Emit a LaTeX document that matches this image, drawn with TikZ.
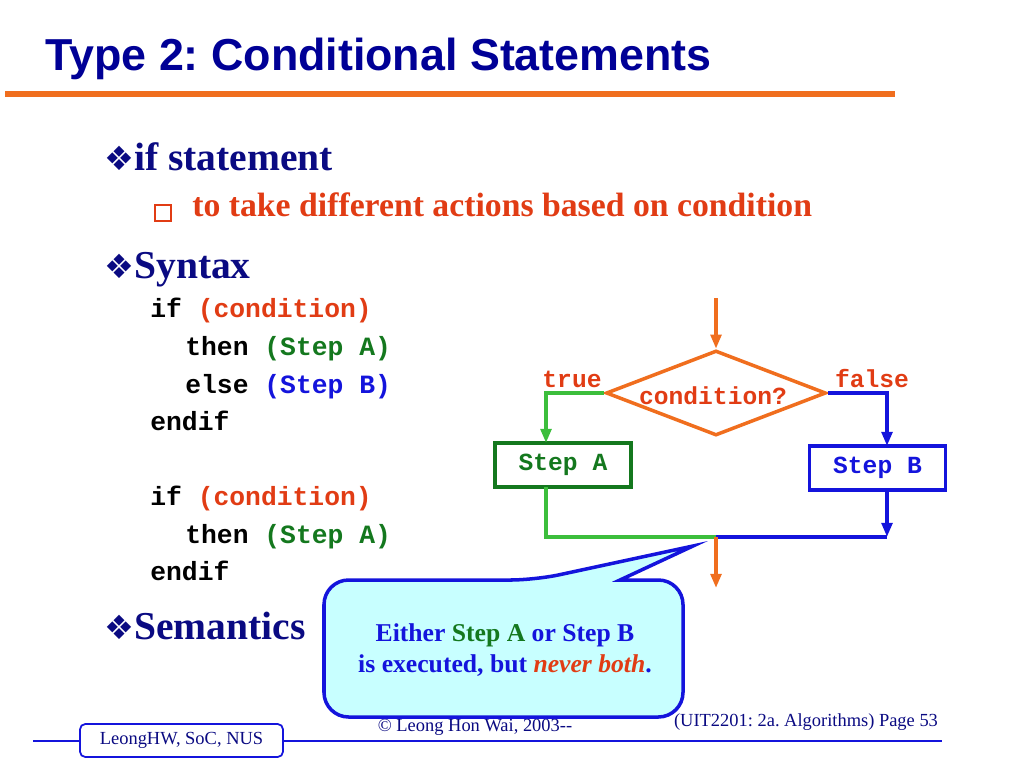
\documentclass[tikz,border=0pt]{standalone}
\usepackage{fontspec}
\setmainfont{Liberation Serif}
\newfontfamily\titlefont{Liberation Sans}
\newfontfamily\codefont{Liberation Mono}
\newfontfamily\symfont{DejaVu Sans}
\usetikzlibrary{shapes.geometric,arrows.meta}
\definecolor{navy}{RGB}{10,10,130}
\definecolor{ttl}{RGB}{0,0,150}
\definecolor{orng}{RGB}{240,110,30}
\definecolor{redo}{RGB}{225,60,20}
\definecolor{dgreen}{RGB}{20,120,30}
\definecolor{lgreen}{RGB}{60,190,60}
\definecolor{blu}{RGB}{20,20,220}
\definecolor{cyanfill}{RGB}{200,255,255}
\frenchspacing
\tikzset{
  body/.style={anchor=base west,inner sep=0,font=\bfseries\fontsize{22.5}{26}\selectfont,text=navy},
  code/.style={anchor=base west,inner sep=0,font=\codefont\bfseries\fontsize{15}{18}\selectfont},
  fc/.style={line width=2pt},
  tip/.style={-{Triangle[length=8pt,width=6pt]}},
  boxstyle/.style={draw,line width=2pt,minimum width=2.72cm,minimum height=0.88cm,inner sep=0,font=\codefont\bfseries\fontsize{14}{16}\selectfont},
  foot/.style={inner sep=0,font=\fontsize{10.5}{12}\selectfont,text=navy}
}
\begin{document}
\begin{tikzpicture}[x=0.02cm,y=-0.02cm]
\useasboundingbox (0,0) rectangle (1024,768);
% title
\node[anchor=base west,inner sep=0,font=\titlefont\bfseries\fontsize{25.5}{30}\selectfont,text=ttl] (title) at (45,70) {Type 2: Conditional Statements};
\draw[orng,line width=3pt] (5,94) coordinate (tl1) -- (895,94) coordinate (tl2);
% bullets
\node[body] (b1) at (104,170) {{\symfont\fontsize{19}{20}\selectfont ❖}if statement};
\node[anchor=base west,inner sep=0,draw=redo,line width=1pt,minimum size=0.32cm] (sq) at (154,213) {};
\node[anchor=base west,inner sep=0,font=\bfseries\fontsize{19.2}{22}\selectfont,text=redo] (sub) at (192,216) {to take different actions based on condition};
\node[body] (b2) at (104,278) {{\symfont\fontsize{19}{20}\selectfont ❖}Syntax};
\node[code] (c1) at (150,317) {if \textcolor{redo}{(condition)}};
\node[code] (c2) at (185,355) {then \textcolor{dgreen}{(Step A)}};
\node[code] (c3) at (185,393) {else \textcolor{blu}{(Step B)}};
\node[code] (c4) at (150,430) {endif};
\node[code] (c5) at (150,505) {if \textcolor{redo}{(condition)}};
\node[code] (c6) at (185,543) {then \textcolor{dgreen}{(Step A)}};
\node[code] (c7) at (150,580) {endif};
\node[body] (b3) at (104,639) {{\symfont\fontsize{19}{20}\selectfont ❖}Semantics};
% flowchart
\coordinate (top) at (716,298);
\node[diamond,draw=orng,fc,aspect=2.6,inner sep=0,minimum width=4.4cm,minimum height=1.7cm] (cond) at (716,393) {};
\node[inner sep=0,font=\codefont\bfseries\fontsize{14}{16}\selectfont,text=redo] (condt) at (713,396) {condition?};
\node[inner sep=0,font=\codefont\bfseries\fontsize{14}{16}\selectfont,text=redo] (tr) at (572,379) {true};
\node[inner sep=0,font=\codefont\bfseries\fontsize{14}{16}\selectfont,text=redo] (fa) at (872,379) {false};
\node[boxstyle,draw=dgreen,text=dgreen] (sa) at (563,465) {Step A};
\node[boxstyle,draw=blu,text=blu] (sb) at (877.5,468) {Step B};
\coordinate (join) at (716,537);
\coordinate (out) at (716,588);
\draw[orng,fc,tip] (top) -- (cond.north);
\draw[lgreen,fc,tip] (cond.west) -| (546,443);
\draw[blu,fc,tip] (cond.east) -| (887,446);
\draw[lgreen,fc] (546,487) |- (join);
\draw[blu,fc,tip] (887,490) -- (887,537);
\draw[blu,fc] (887,537) -- (join);
\draw[orng,fc,tip] (join) -- (out);
% footer
\draw[blu,line width=1pt] (33,741) -- (942,741);
\node[draw=blu,line width=1pt,fill=white,rounded corners=3pt,minimum width=4.06cm,minimum height=0.66cm,foot] (lhw) at (181.5,740.5) {LeongHW, SoC, NUS};
\node[foot] (cp) at (475,727) {© Leong Hon Wai, 2003-{}-};
\node[foot] (pg) at (806,722) {(UIT2201: 2a. Algorithms) Page 53};
% callout
\draw[blu,line width=2pt,fill=cyanfill,line join=miter]
  (324,650) [rounded corners=14pt]-- (324,580) -- (535,580) [sharp corners]-- (693,546) -- (620,580) [rounded corners=14pt]-- (683,580) -- (683,717) -- (324,717) -- cycle;
\node[inner sep=0,align=center,font=\bfseries\fontsize{14.6}{17.5}\selectfont,text=blu] (call) at (505,650)
  {Either \textcolor{dgreen}{Step A} or Step B\\is executed, but \textcolor{redo}{\itshape never both}.};
\end{tikzpicture}
\end{document}
